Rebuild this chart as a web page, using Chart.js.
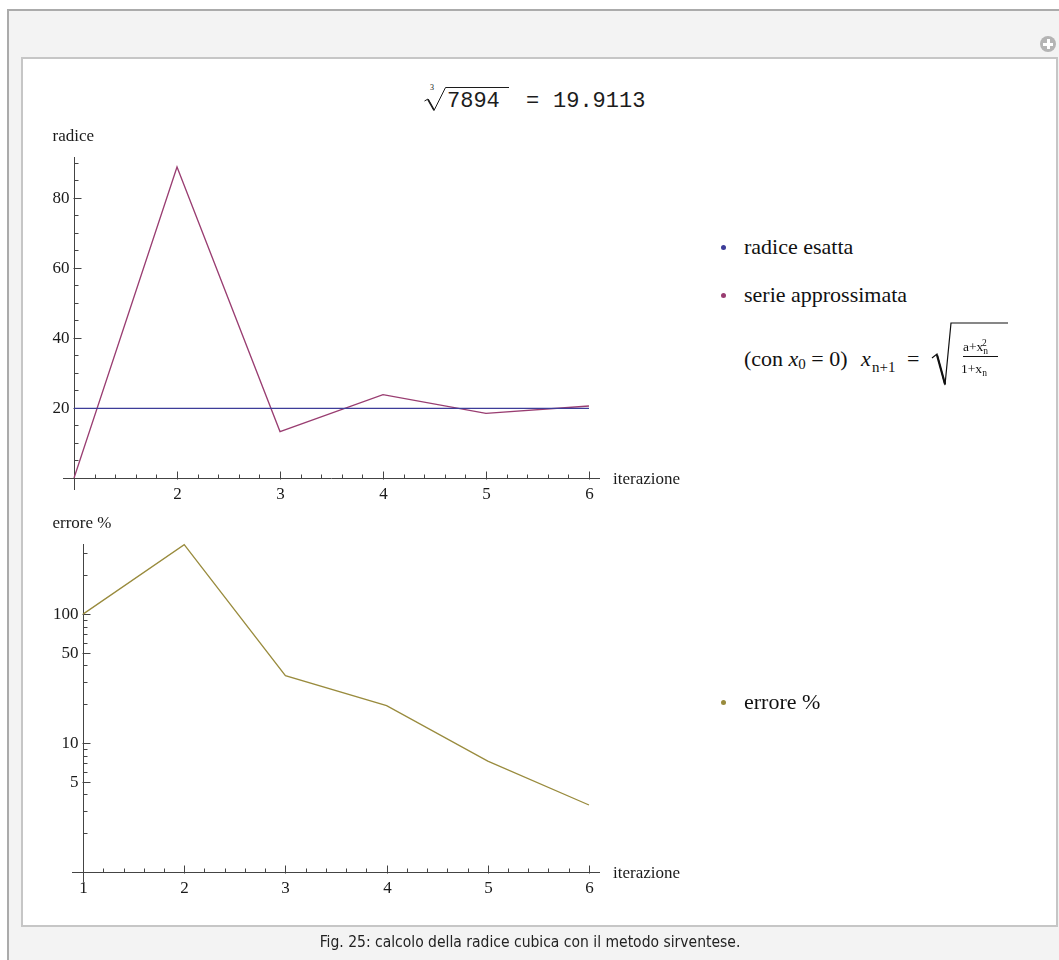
<!DOCTYPE html>
<html lang="it">
<head>
<meta charset="utf-8">
<title>Radice cubica – metodo sirventese</title>
<script src="https://cdn.jsdelivr.net/npm/chart.js@4.4.1/dist/chart.umd.min.js"></script>
<style>
  html, body { margin: 0; padding: 0; background: #fff; }
  body { width: 1059px; height: 960px; position: relative; overflow: hidden; }
  .abs { position: absolute; }
  #frame { left: 7px; top: 9px; width: 1060px; height: 960px; background: #f3f3f3;
           border-left: 2px solid #ababab; border-top: 2px solid #ababab; }
  #panel { left: 21px; top: 57px; width: 1033px; height: 866px; background: #fff;
           border: 2px solid #c6c6c6; }
  #plus { left: 1040px; top: 36px; width: 16px; height: 16px; border-radius: 50%; background: #b4b4b4; }
  #plus::before, #plus::after { content: ""; position: absolute; background: #fff; }
  #plus::before { left: 3px; top: 6.5px; width: 10px; height: 3px; }
  #plus::after { left: 6.5px; top: 3px; width: 3px; height: 10px; }
  .mono { font: 22px "Liberation Mono", monospace; color: #1c1c1c; line-height: 22px; }
  .serif { font-family: "Liberation Serif", "Times New Roman", serif; color: #111; }
  .leg { font-size: 22px; line-height: 24px; white-space: nowrap; }
  .sub { font-size: 15px; line-height: 15px; }
  .leg sub { font-size: 15px; line-height: 0; vertical-align: -3px; }
  .dot { width: 5px; height: 5px; border-radius: 50%; }
  .frac { font-size: 13.5px; line-height: 14px; white-space: nowrap; }
  .frac .s { font-size: 9.5px; }
  #caption { left: 0; width: 1060px; top: 933px; text-align: center;
             font: 15.5px "DejaVu Sans Condensed", "DejaVu Sans", sans-serif; color: #222; }
  canvas { position: absolute; }
</style>
</head>
<body>
<div id="frame" class="abs"></div>
<div id="panel" class="abs"></div>
<div id="plus" class="abs"></div>

<!-- cube root heading -->
<svg class="abs" style="left:0; top:0;" width="1059" height="200">
  <polyline points="424.5,101 428,99 434,110.5 445.5,87.5 509,87.5" fill="none" stroke="#1c1c1c" stroke-width="1"/>
  <line x1="428" y1="99.5" x2="434" y2="110" stroke="#1c1c1c" stroke-width="1.6"/>
</svg>
<div class="abs serif" style="left:430px; top:84px; font-size:8px; line-height:8px;">3</div>
<div class="abs mono" style="left:447px; top:91px;">7894</div>
<div class="abs mono" style="left:526px; top:91px;">=</div>
<div class="abs mono" style="left:553px; top:91px;">19.9113</div>

<canvas id="rootChart" width="680" height="390" style="left:30px; top:115px;"></canvas>
<canvas id="errChart" width="680" height="395" style="left:30px; top:505px;"></canvas>

<!-- legends -->
<div class="abs dot" style="left:721px; top:245px; background:#3d3d99;"></div>
<div class="abs serif leg" style="left:744px; top:235px;">radice esatta</div>
<div class="abs dot" style="left:721px; top:293px; background:#993d71;"></div>
<div class="abs serif leg" style="left:744px; top:283px;">serie approssimata</div>

<!-- iteration formula -->
<div class="abs serif leg" style="left:744px; top:347px;">(con <i>x</i><sub>0</sub> = 0)</div>
<div class="abs serif leg" style="left:861px; top:347px;"><i>x</i></div>
<div class="abs serif sub" style="left:872px; top:360px;">n+1</div>
<div class="abs serif leg" style="left:907px; top:347px;">=</div>
<svg class="abs" style="left:0; top:0;" width="1059" height="960">
  <polyline points="932,358 937,354 945,385 951,323 1008,323" fill="none" stroke="#111" stroke-width="1.2"/>
  <line x1="937" y1="355" x2="945" y2="384" stroke="#111" stroke-width="2.2"/>
  <line x1="963" y1="356.5" x2="998" y2="356.5" stroke="#111" stroke-width="1"/>
</svg>
<div class="abs serif frac" style="left:963px; top:340px;">a+x<span class="s" style="position:relative; top:3px;">n</span><span class="s" style="position:relative; top:-5px; margin-left:-6px;">2</span></div>
<div class="abs serif frac" style="left:961px; top:362px;">1+x<span class="s" style="position:relative; top:3px;">n</span></div>

<div class="abs dot" style="left:721px; top:700px; background:#998b3d;"></div>
<div class="abs serif leg" style="left:744px; top:690px;">errore %</div>

<div id="caption" class="abs">Fig. 25: calcolo della radice cubica con il metodo sirventese.</div>

<script>
// iterations and values of the Sirventes cube-root series for a = 7894
const iterazioni = [1, 2, 3, 4, 5, 6];
const radiceEsatta = [19.9113, 19.9113, 19.9113, 19.9113, 19.9113, 19.9113];
const serieApprossimata = [0, 88.85, 13.26, 23.79, 18.47, 20.57];
const errorePercento = [100, 346.2, 33.4, 19.5, 7.24, 3.31];

// tick values for both panels
const xMajor = [2, 3, 4, 5, 6];
const xMinor = [1.2, 1.4, 1.6, 1.8, 2.2, 2.4, 2.6, 2.8, 3.2, 3.4, 3.6, 3.8,
                4.2, 4.4, 4.6, 4.8, 5.2, 5.4, 5.6, 5.8];
const rootMajor = [20, 40, 60, 80];
const rootMinor = [5, 10, 15, 25, 30, 35, 45, 50, 55, 65, 70, 75, 85, 90];
const errMajor = [5, 10, 50, 100];
const errMinor = [2, 3, 4, 6, 7, 8, 9, 20, 30, 40, 60, 70, 80, 90, 200, 300];

const AXIS = '#444';
const TEXT = '#1a1a1a';
const FONT = '17px "Liberation Serif", serif';

const points = (ys) => iterazioni.map((x, i) => ({ x, y: ys[i] }));

/* =========================
   AXES LIKE A MATHEMATICA PLOT
========================= */
const crossAxes = {
  id: 'crossAxes',
  beforeDatasetsDraw(chart, args, o) {
    const { ctx, chartArea: a, scales: { x, y } } = chart;
    const px = (v) => Math.round(x.getPixelForValue(v)) + 0.5;
    const py = (v) => Math.round(y.getPixelForValue(v)) + 0.5;
    const x0 = px(o.crossX);
    const y0 = py(o.crossY);

    ctx.save();
    ctx.strokeStyle = AXIS;
    ctx.lineWidth = 1;
    ctx.beginPath();
    ctx.moveTo(a.left, y0); ctx.lineTo(a.right, y0);
    ctx.moveTo(x0, a.top); ctx.lineTo(x0, a.bottom);
    o.xMinor.forEach(v => { ctx.moveTo(px(v), y0); ctx.lineTo(px(v), y0 - 4); });
    o.xMajor.forEach(v => { ctx.moveTo(px(v), y0 + 1); ctx.lineTo(px(v), y0 - 7); });
    o.yMinor.forEach(v => { ctx.moveTo(x0, py(v)); ctx.lineTo(x0 + 4, py(v)); });
    o.yMajor.forEach(v => { ctx.moveTo(x0 - 1, py(v)); ctx.lineTo(x0 + 7, py(v)); });
    ctx.stroke();

    ctx.fillStyle = TEXT;
    ctx.font = FONT;
    ctx.textBaseline = 'middle';
    ctx.textAlign = 'center';
    o.xLabels.forEach(v => ctx.fillText(String(v), px(v), y0 + 16));
    ctx.textAlign = 'right';
    o.yMajor.forEach(v => ctx.fillText(String(v), x0 - 5, py(v)));

    ctx.textAlign = 'left';
    ctx.fillText(o.xTitle, a.right + 13, y0 + 1);
    ctx.fillText(o.yTitle, x0 - o.yTitleOffset, a.top - 20);
    ctx.restore();
  }
};

const lineStyle = { borderWidth: 1.3, pointRadius: 0, tension: 0, clip: false };

function baseOptions(padding, axes, x, y) {
  return {
    responsive: false,
    devicePixelRatio: 1,
    animation: false,
    layout: { padding },
    plugins: { legend: { display: false }, tooltip: { enabled: false }, crossAxes: axes },
    scales: {
      x: Object.assign({ type: 'linear', display: false }, x),
      y: Object.assign({ type: 'linear', display: false }, y)
    }
  };
}

/* =========================
   RADICE
========================= */
new Chart(document.getElementById('rootChart'), {
  type: 'line',
  data: {
    datasets: [
      Object.assign({ label: 'radice esatta', data: points(radiceEsatta), borderColor: '#3d3d99' }, lineStyle),
      Object.assign({ label: 'serie approssimata', data: points(serieApprossimata), borderColor: '#993d71' }, lineStyle)
    ]
  },
  options: baseOptions(
    { left: 33, top: 42, right: 110, bottom: 15 },
    { crossX: 1, crossY: 0, xMajor, xMinor, xLabels: xMajor,
      yMajor: rootMajor, yMinor: rootMinor, xTitle: 'iterazione', yTitle: 'radice', yTitleOffset: 22 },
    { min: 0.893, max: 6.107 },
    { min: -3.43, max: 91.71 }
  ),
  plugins: [crossAxes]
});

/* =========================
   ERRORE %
========================= */
new Chart(document.getElementById('errChart'), {
  type: 'line',
  data: {
    datasets: [
      Object.assign({ label: 'errore %', data: points(errorePercento), borderColor: '#998b3d' }, lineStyle)
    ]
  },
  options: baseOptions(
    { left: 42, top: 39, right: 110, bottom: 18 },
    { crossX: 1, crossY: 1, xMajor: [1].concat(xMajor), xMinor, xLabels: iterazioni,
      yMajor: errMajor, yMinor: errMinor, xTitle: 'iterazione', yTitle: 'errore %', yTitleOffset: 31 },
    { min: 0.891, max: 6.109 },
    { type: 'logarithmic', min: 0.837, max: 350 }
  ),
  plugins: [crossAxes]
});
</script>
</body>
</html>
